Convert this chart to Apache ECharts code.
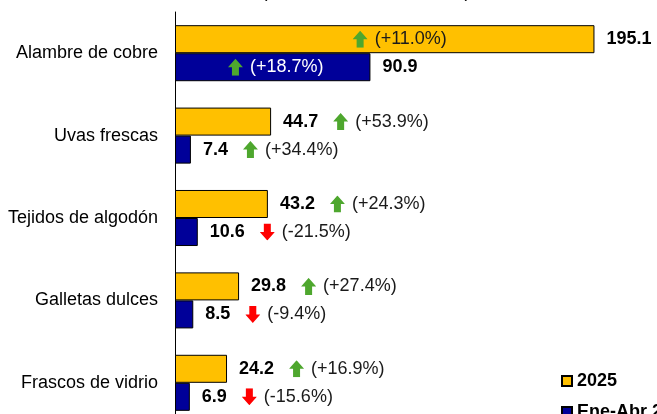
<!DOCTYPE html>
<html>
<head>
<meta charset="utf-8">
<script src="https://cdn.jsdelivr.net/npm/echarts@6/dist/echarts.min.js"></script>
<style>
  html, body { margin: 0; padding: 0; background: #fff; }
  #main { width: 657px; height: 414px; }
</style>
</head>
<body>
<div id="main"></div>
<script>
// datos del grafico
var categories = ['Alambre de cobre', 'Uvas frescas', 'Tejidos de algodón', 'Galletas dulces', 'Frascos de vidrio'];
var values2025 = [195.1, 44.7, 43.2, 29.8, 24.2];
var valuesEneAbr = [90.9, 7.4, 10.6, 8.5, 6.9];
var change2025 = [11.0, 53.9, 24.3, 27.4, 16.9];
var changeEneAbr = [18.7, 34.4, -21.5, -9.4, -15.6];
// barras con la variacion escrita dentro de la barra
var insideIdx = [0];
var seriesNames = ['2025', 'Ene-Abr 2026'];

var FONT = '"Liberation Sans", Arial, sans-serif';

// flechas como imagenes svg
function arrowUrl(up, color) {
  var pts = up ? '7.5,0 15,8.5 11,8.5 11,17 4,17 4,8.5 0,8.5' : '7.5,17 15,8.5 11,8.5 11,0 4,0 4,8.5 0,8.5';
  var svg = "<svg xmlns='http://www.w3.org/2000/svg' width='15' height='17' viewBox='0 0 15 17'>" +
    "<polygon points='" + pts + "' fill='" + color + "'/></svg>";
  return 'data:image/svg+xml;charset=utf-8,' + encodeURIComponent(svg);
}
var upImg = arrowUrl(true, '#4EA72E');
var downImg = arrowUrl(false, '#FF0000');

function pct(v) {
  return '(' + (v >= 0 ? '+' : '') + v.toFixed(1) + '%)';
}
function arrowTok(v) {
  return v >= 0 ? '{up|}' : '{dn|}';
}

function richFor(pColor) {
  return {
    v: { fontFamily: FONT, fontSize: 18, fontWeight: 'bold', color: '#000' },
    p: { fontFamily: FONT, fontSize: 18, color: pColor },
    g1: { width: 15 },
    g2: { width: 7 },
    up: { width: 15, height: 17, backgroundColor: { image: upImg } },
    dn: { width: 15, height: 17, backgroundColor: { image: downImg } }
  };
}

function valueLabel(changes) {
  return {
    show: true,
    position: 'right',
    distance: 12,
    formatter: function (p) {
      var i = p.dataIndex;
      var s = '{v|' + p.value.toFixed(1) + '}';
      if (insideIdx.indexOf(i) < 0) {
        s += '{g1|}' + arrowTok(changes[i]) + '{g2|}{p|' + pct(changes[i]) + '}';
      }
      return s;
    },
    rich: richFor('#1a1a1a')
  };
}

function insideLabel(changes, pColor, off) {
  return {
    show: true,
    position: 'inside',
    offset: off,
    formatter: function (p) {
      var i = p.dataIndex;
      if (insideIdx.indexOf(i) < 0) return '';
      return arrowTok(changes[i]) + '{g2|}{p|' + pct(changes[i]) + '}';
    },
    rich: richFor(pColor)
  };
}

var chart = echarts.init(document.getElementById('main'));
chart.setOption({
  animation: false,
  graphic: [{
    type: 'text',
    style: {
      text: '(Millones de dólares FOB)',
      x: 366, y: -8,
      align: 'center', verticalAlign: 'middle',
      font: '18px ' + FONT, fill: '#000'
    }
  }],
  legend: {
    data: seriesNames,
    orient: 'vertical',
    left: 556,
    top: 367,
    height: 100,
    itemWidth: 10,
    itemHeight: 10,
    itemGap: 13,
    icon: 'rect',
    textStyle: { fontFamily: FONT, fontSize: 18, fontWeight: 'bold', color: '#000' }
  },
  grid: { left: 175, top: 12, width: 430, height: 412, outerBoundsMode: 'none' },
  xAxis: { type: 'value', min: 0, max: 200, show: false },
  yAxis: [{
    type: 'category',
    data: categories,
    inverse: true,
    axisLine: { lineStyle: { color: '#000', width: 1 } },
    axisTick: { show: false },
    axisLabel: { margin: 17, color: '#000', fontFamily: FONT, fontSize: 18 }
  }, {
    type: 'category',
    data: categories,
    inverse: true,
    show: false
  }],
  series: [{
    name: seriesNames[0],
    type: 'bar',
    data: values2025,
    barGap: '0%',
    barCategoryGap: '32%',
    itemStyle: { color: '#FFC000', borderColor: '#000', borderWidth: 1 },
    label: valueLabel(change2025)
  }, {
    name: seriesNames[1],
    type: 'bar',
    data: valuesEneAbr,
    barGap: '0%',
    barCategoryGap: '32%',
    itemStyle: { color: '#000099', borderColor: '#000', borderWidth: 1 },
    label: valueLabel(changeEneAbr)
  }, {
    name: 'nota1',
    type: 'bar',
    yAxisIndex: 1,
    data: values2025,
    barGap: '0%',
    barCategoryGap: '32%',
    silent: true,
    itemStyle: { color: 'rgba(0,0,0,0)' },
    label: insideLabel(change2025, '#1a1a1a', [15, 0])
  }, {
    name: 'nota2',
    type: 'bar',
    yAxisIndex: 1,
    data: valuesEneAbr,
    barGap: '0%',
    barCategoryGap: '32%',
    silent: true,
    itemStyle: { color: 'rgba(0,0,0,0)' },
    label: insideLabel(changeEneAbr, '#ffffff', [3, 0])
  }]
});
</script>
</body>
</html>
